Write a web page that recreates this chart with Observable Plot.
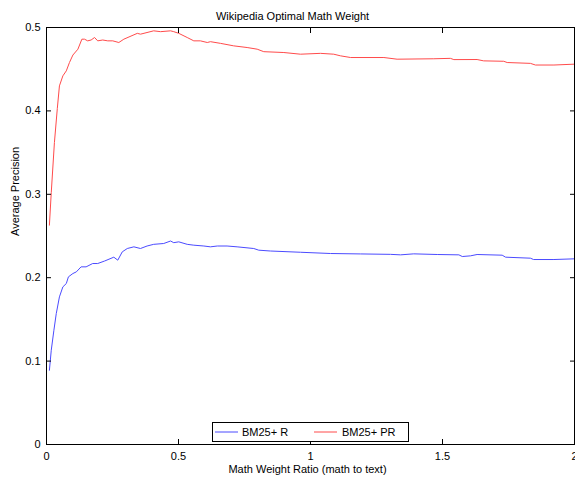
<!DOCTYPE html>
<html><head><meta charset="utf-8">
<script src="https://cdn.jsdelivr.net/npm/d3@7"></script>
<script src="https://cdn.jsdelivr.net/npm/@observablehq/plot@0.6"></script>
<style>body{margin:0;background:#fff} #chart svg{display:block}</style>
</head><body><div id="chart"></div>
<script>
const title = "Wikipedia Optimal Math Weight";
const xLabel = "Math Weight Ratio (math to text)";
const yLabel = "Average Precision";
const seriesNames = ["BM25+ R", "BM25+ PR"];
const seriesColors = ["#4b4bff", "#ff4b4b"];
const xTicks = [0, 0.5, 1, 1.5, 2];
const xTickLabels = ["0", "0.5", "1", "1.5", "2"];
const yTicks = [0, 0.1, 0.2, 0.3, 0.4, 0.5];
const yTickLabels = ["0", "0.1", "0.2", "0.3", "0.4", "0.5"];

// BM25+ PR (red)
const prX = [0.011,0.018,0.030,0.041,0.049,0.062,0.075,0.087,0.100,0.119,0.134,0.144,0.156,0.169,0.182,0.194,0.213,0.232,0.251,0.274,0.293,0.344,0.356,0.406,0.432,0.470,0.482,0.501,0.533,0.558,0.583,0.609,0.621,0.659,0.709,0.760,0.798,0.823,0.899,0.962,1.038,1.088,1.114,1.152,1.278,1.328,1.467,1.530,1.543,1.631,1.656,1.732,1.745,1.833,1.852,1.922,1.997];
const prY = [0.263,0.302,0.362,0.403,0.430,0.442,0.448,0.458,0.467,0.474,0.486,0.486,0.484,0.485,0.488,0.484,0.485,0.484,0.484,0.482,0.486,0.493,0.492,0.496,0.495,0.496,0.495,0.493,0.488,0.484,0.484,0.482,0.483,0.481,0.478,0.476,0.474,0.471,0.470,0.468,0.469,0.468,0.466,0.464,0.464,0.462,0.4625,0.463,0.4615,0.4616,0.460,0.4595,0.458,0.457,0.455,0.455,0.456];

// BM25+ R (blue)
const rX = [0.011,0.018,0.028,0.037,0.049,0.062,0.075,0.083,0.100,0.113,0.131,0.150,0.175,0.194,0.220,0.255,0.270,0.287,0.306,0.331,0.356,0.381,0.406,0.444,0.470,0.482,0.501,0.533,0.558,0.596,0.621,0.647,0.684,0.722,0.785,0.804,0.848,0.962,1.076,1.189,1.303,1.341,1.391,1.480,1.562,1.575,1.606,1.631,1.726,1.739,1.833,1.845,1.922,1.997];
const rY = [0.089,0.113,0.137,0.157,0.177,0.189,0.193,0.201,0.205,0.207,0.213,0.213,0.217,0.217,0.220,0.2246,0.221,0.231,0.235,0.237,0.235,0.238,0.240,0.241,0.244,0.242,0.243,0.240,0.239,0.238,0.237,0.238,0.238,0.237,0.235,0.233,0.232,0.2305,0.229,0.2285,0.228,0.2274,0.2286,0.2278,0.2274,0.2254,0.2262,0.2278,0.2270,0.2246,0.2234,0.2218,0.2218,0.2226];

const rRows = rX.map((x, i) => ({x, y: rY[i]}));
const prRows = prX.map((x, i) => ({x, y: prY[i]}));

const font = "'Liberation Sans', Arial, Helvetica, sans-serif";

const plot = Plot.plot({
  width: 575, height: 485,
  marginLeft: 46, marginRight: 1, marginTop: 27, marginBottom: 41,
  style: {fontFamily: font, fontSize: "11px", background: "#fff", color: "#000"},
  x: {domain: [0, 2]},
  y: {domain: [0, 0.5]},
  marks: [
    Plot.line(rRows, {x: "x", y: "y", stroke: seriesColors[0], strokeWidth: 1}),
    Plot.line(prRows, {x: "x", y: "y", stroke: seriesColors[1], strokeWidth: 1}),
    Plot.frame({stroke: "#000", strokeWidth: 1}),
    Plot.axisX(xTicks, {anchor: "bottom", tickSize: -5, fill: "none", label: null, stroke: "#000"}),
    Plot.axisX(xTicks, {anchor: "top", tickSize: -5, fill: "none", label: null, stroke: "#000"}),
    Plot.axisY(yTicks, {anchor: "left", tickSize: -5, fill: "none", label: null, stroke: "#000"}),
    Plot.axisY(yTicks, {anchor: "right", tickSize: -5, fill: "none", label: null, stroke: "#000"}),
    Plot.axisX(xTicks, {anchor: "bottom", tickSize: 0, tickPadding: 8, label: null, fill: "#000",
      tickFormat: (d) => xTickLabels[xTicks.indexOf(d)]}),
    Plot.axisY(yTicks, {anchor: "left", tickSize: 0, tickPadding: 6, label: null, fill: "#000",
      tickFormat: (d) => yTickLabels[yTicks.indexOf(d)]}),
    Plot.text([title], {frameAnchor: "top", dy: -15, dx: -18, text: d => d, fontSize: 11, fill: "#000"}),
    Plot.text([xLabel], {frameAnchor: "bottom", dy: 28, dx: -3, text: d => d, fontSize: 11, fill: "#000"}),
    Plot.text([yLabel], {frameAnchor: "left", dx: -31, text: d => d, rotate: -90, fontSize: 11, fill: "#000"})
  ]
});

document.getElementById("chart").appendChild(plot);

// legend box
const svg = d3.select(plot);
const lg = svg.append("g").attr("font-family", font).attr("font-size", 11).attr("text-anchor", "start");
lg.append("rect").attr("x", 212.5).attr("y", 422.5).attr("width", 196).attr("height", 19)
  .attr("fill", "#fff").attr("stroke", "#000");
const items = [{x: 215, tx: 242}, {x: 314, tx: 342}];
items.forEach((it, i) => {
  lg.append("line").attr("x1", it.x).attr("x2", it.x + 23).attr("y1", 432).attr("y2", 432)
    .attr("stroke", seriesColors[i]).attr("stroke-width", 1);
  lg.append("text").attr("x", it.tx).attr("y", 432).attr("dy", "0.35em").attr("text-anchor", "start")
    .attr("fill", "#000").text(seriesNames[i]);
});
</script>
</body></html>
